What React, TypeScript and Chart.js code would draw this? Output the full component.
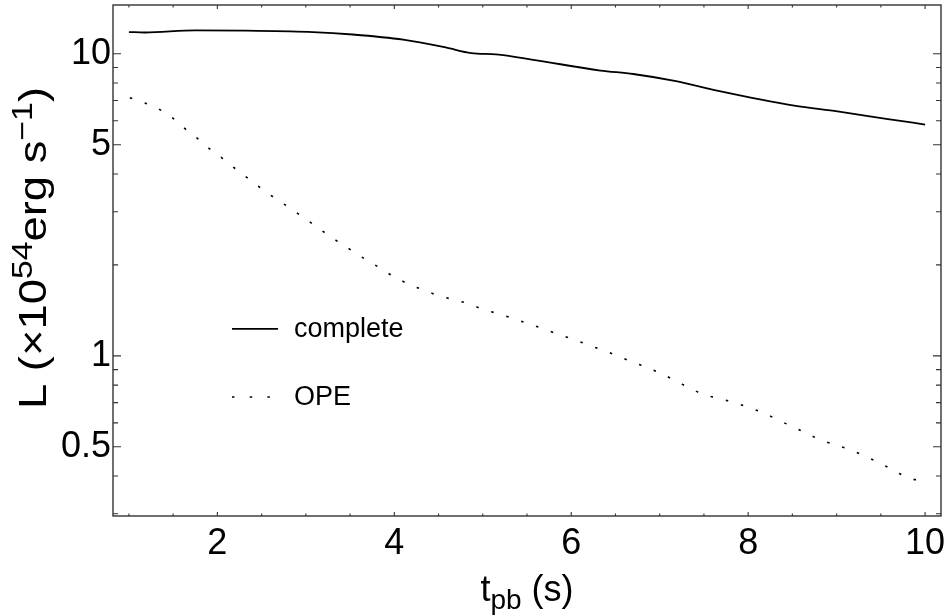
import React, { useEffect, useRef } from "react";
import { Chart, registerables } from "chart.js";

Chart.register(...registerables);

// ---- data ----
const completeT = [1.0, 1.18, 1.75, 2.32, 3.08, 3.53, 4.1, 4.58, 4.87, 5.15, 5.57, 6.33, 6.7, 7.2, 7.69, 8.52, 9.01, 9.58, 10.0];
const completeL = [11.8, 11.76, 11.95, 11.92, 11.8, 11.58, 11.13, 10.49, 10.05, 9.95, 9.55, 8.8, 8.57, 8.1, 7.5, 6.73, 6.44, 6.08, 5.83];

const opeT = [1.01, 1.18, 1.35, 1.5, 1.63, 1.78, 1.91, 2.06, 2.2, 2.34, 2.48, 2.63, 2.78, 2.93, 3.08, 3.22, 3.37, 3.52, 3.67, 3.83, 3.98, 4.14, 4.31, 4.48, 4.65, 4.83, 4.99, 5.17, 5.34, 5.51, 5.68, 5.85, 6.02, 6.19, 6.36, 6.53, 6.69, 6.86, 7.03, 7.19, 7.35, 7.51, 7.69, 7.86, 8.03, 8.2, 8.36, 8.53, 8.69, 8.85, 9.02, 9.19, 9.36, 9.52, 9.68, 9.84, 10.0];
const opeL = [7.15, 6.87, 6.53, 6.11, 5.66, 5.23, 4.85, 4.5, 4.17, 3.88, 3.61, 3.36, 3.14, 2.93, 2.73, 2.55, 2.38, 2.23, 2.09, 1.96, 1.84, 1.74, 1.66, 1.59, 1.54, 1.49, 1.43, 1.38, 1.33, 1.28, 1.23, 1.18, 1.136, 1.087, 1.044, 0.998, 0.955, 0.915, 0.87, 0.824, 0.779, 0.743, 0.721, 0.697, 0.671, 0.642, 0.609, 0.578, 0.548, 0.523, 0.504, 0.484, 0.46, 0.437, 0.412, 0.392, 0.386];

const xMajorTicks = [2, 4, 6, 8, 10];
const xMinorTicks = [1, 1.5, 2.5, 3, 3.5, 4.5, 5, 5.5, 6.5, 7, 7.5, 8.5, 9, 9.5];
const yMajorTicks = [0.5, 1, 5, 10];
const yMinorTicks = [0.3, 0.4, 0.6, 0.7, 0.8, 0.9, 2, 3, 4, 6, 7, 8, 9];

const legendLabels = ["complete", "OPE"];

const FONT = "'Liberation Sans', Arial, sans-serif";

// y title pieces: text, font size, baseline shift
const yTitleParts = [
  { t: "L (×10", s: 39, dy: 0 },
  { t: "54", s: 29, dy: -14 },
  { t: "erg s", s: 39, dy: 0 },
  { t: "−1", s: 29, dy: -14 },
  { t: ")", s: 39, dy: 0 },
];

const framePlugin = {
  id: "framePlugin",
  afterDraw(chart: any) {
    const ctx = chart.ctx as CanvasRenderingContext2D;
    const { left, right, top, bottom } = chart.chartArea;
    const xs = chart.scales.x;
    const ys = chart.scales.y;
    ctx.save();
    // frame
    ctx.strokeStyle = "#333";
    ctx.lineWidth = 1.4;
    ctx.strokeRect(left, top, right - left, bottom - top);
    ctx.lineWidth = 1.1;
    ctx.strokeStyle = "#333";
    const drawX = (v: number, len: number) => {
      const px = xs.getPixelForValue(v);
      ctx.beginPath();
      ctx.moveTo(px, bottom);
      ctx.lineTo(px, bottom - len);
      ctx.moveTo(px, top);
      ctx.lineTo(px, top + len);
      ctx.stroke();
    };
    const drawY = (v: number, len: number) => {
      const py = ys.getPixelForValue(v);
      ctx.beginPath();
      ctx.moveTo(left, py);
      ctx.lineTo(left + len, py);
      ctx.moveTo(right, py);
      ctx.lineTo(right - len, py);
      ctx.stroke();
    };
    xMajorTicks.forEach((v) => drawX(v, 4));
    xMinorTicks.forEach((v) => drawX(v, 2.5));
    yMajorTicks.forEach((v) => drawY(v, 8));
    yMinorTicks.forEach((v) => drawY(v, 5));

    // legend
    const w = right - left;
    const h = bottom - top;
    const lx0 = left + w * 0.1437;
    const lx1 = left + w * 0.1993;
    const tx = left + w * 0.2186;
    const rows = [top + h * 0.634, top + h * 0.767];
    chart.data.datasets.forEach((ds: any, i: number) => {
      const y = rows[i];
      ctx.strokeStyle = ds.borderColor;
      ctx.lineWidth = ds.borderWidth;
      ctx.setLineDash(i === 0 ? [] : [2.5, 15.2]);
      ctx.beginPath();
      ctx.moveTo(lx0, y);
      ctx.lineTo(lx1, y);
      ctx.stroke();
      ctx.setLineDash([]);
      ctx.fillStyle = "#000";
      ctx.font = `27px ${FONT}`;
      ctx.textBaseline = "middle";
      ctx.textAlign = "left";
      ctx.fillText(legendLabels[i], tx, y + 1);
    });

    // x title: t_pb (s)
    ctx.fillStyle = "#000";
    ctx.textBaseline = "alphabetic";
    ctx.textAlign = "left";
    const xParts = [
      { t: "t", s: 36, dy: 0 },
      { t: "pb", s: 28, dy: 8 },
      { t: " (s)", s: 36, dy: 0 },
    ];
    let tw = 0;
    xParts.forEach((p) => {
      ctx.font = `${p.s}px ${FONT}`;
      tw += ctx.measureText(p.t).width;
    });
    let cx = (left + right) / 2 - tw / 2;
    xParts.forEach((p) => {
      ctx.font = `${p.s}px ${FONT}`;
      ctx.fillText(p.t, cx, 601 + p.dy);
      cx += ctx.measureText(p.t).width;
    });

    // y title: L (×10^54 erg s^-1), rotated, spanning the measured length
    let yw = 0;
    yTitleParts.forEach((p) => {
      ctx.font = `${p.s}px ${FONT}`;
      yw += ctx.measureText(p.t).width;
    });
    const titleLen = 322;
    ctx.translate(46, 409);
    ctx.rotate(-Math.PI / 2);
    ctx.scale(titleLen / yw, 1);
    let u = 0;
    yTitleParts.forEach((p) => {
      ctx.font = `${p.s}px ${FONT}`;
      ctx.fillText(p.t, u, p.dy);
      u += ctx.measureText(p.t).width;
    });
    ctx.restore();
  },
};

export default function App() {
  const ref = useRef<HTMLCanvasElement | null>(null);
  useEffect(() => {
    document.body.style.margin = "0";
    if (!ref.current) return;
    const chart = new Chart(ref.current, {
      type: "line",
      data: {
        datasets: [
          {
            label: legendLabels[0],
            data: completeT.map((t, i) => ({ x: t, y: completeL[i] })),
            borderColor: "#000",
            borderWidth: 1.8,
            pointRadius: 0,
            cubicInterpolationMode: "monotone",
          },
          {
            label: legendLabels[1],
            data: opeT.map((t, i) => ({ x: t, y: opeL[i] })),
            borderColor: "#000",
            borderWidth: 1.6,
            borderDash: [2.5, 13.2],
            pointRadius: 0,
            cubicInterpolationMode: "monotone",
          },
        ],
      },
      options: {
        responsive: false,
        animation: false,
        layout: { padding: { top: 5, right: 8, left: 0, bottom: 0 } },
        plugins: { legend: { display: false }, tooltip: { enabled: false } },
        scales: {
          x: {
            type: "linear",
            min: 0.82,
            max: 10.18,
            grid: { display: false, drawTicks: false },
            border: { display: false },
            afterBuildTicks: (s: any) => {
              s.ticks = xMajorTicks.map((v) => ({ value: v }));
            },
            afterFit: (s: any) => {
              s.height = 99;
              s.paddingLeft = 0;
              s.paddingRight = 0;
            },
            ticks: {
              font: { family: FONT, size: 36 },
              color: "#000",
              padding: 6,
              maxRotation: 0,
              autoSkip: false,
              callback: (v: any) => String(v),
            },
          },
          y: {
            type: "logarithmic",
            min: 0.295,
            max: 14.5,
            grid: { display: false, drawTicks: false },
            border: { display: false },
            afterBuildTicks: (s: any) => {
              s.ticks = yMajorTicks.map((v) => ({ value: v }));
            },
            afterFit: (s: any) => {
              s.width = 113;
              s.paddingTop = 0;
              s.paddingBottom = 0;
            },
            ticks: {
              font: { family: FONT, size: 36 },
              color: "#000",
              padding: 2,
              autoSkip: false,
              callback: (v: any) => String(v),
            },
          },
        },
      },
      plugins: [framePlugin],
    });
    return () => chart.destroy();
  }, []);
  return <canvas ref={ref} width={949} height={615} style={{ display: "block" }} />;
}
